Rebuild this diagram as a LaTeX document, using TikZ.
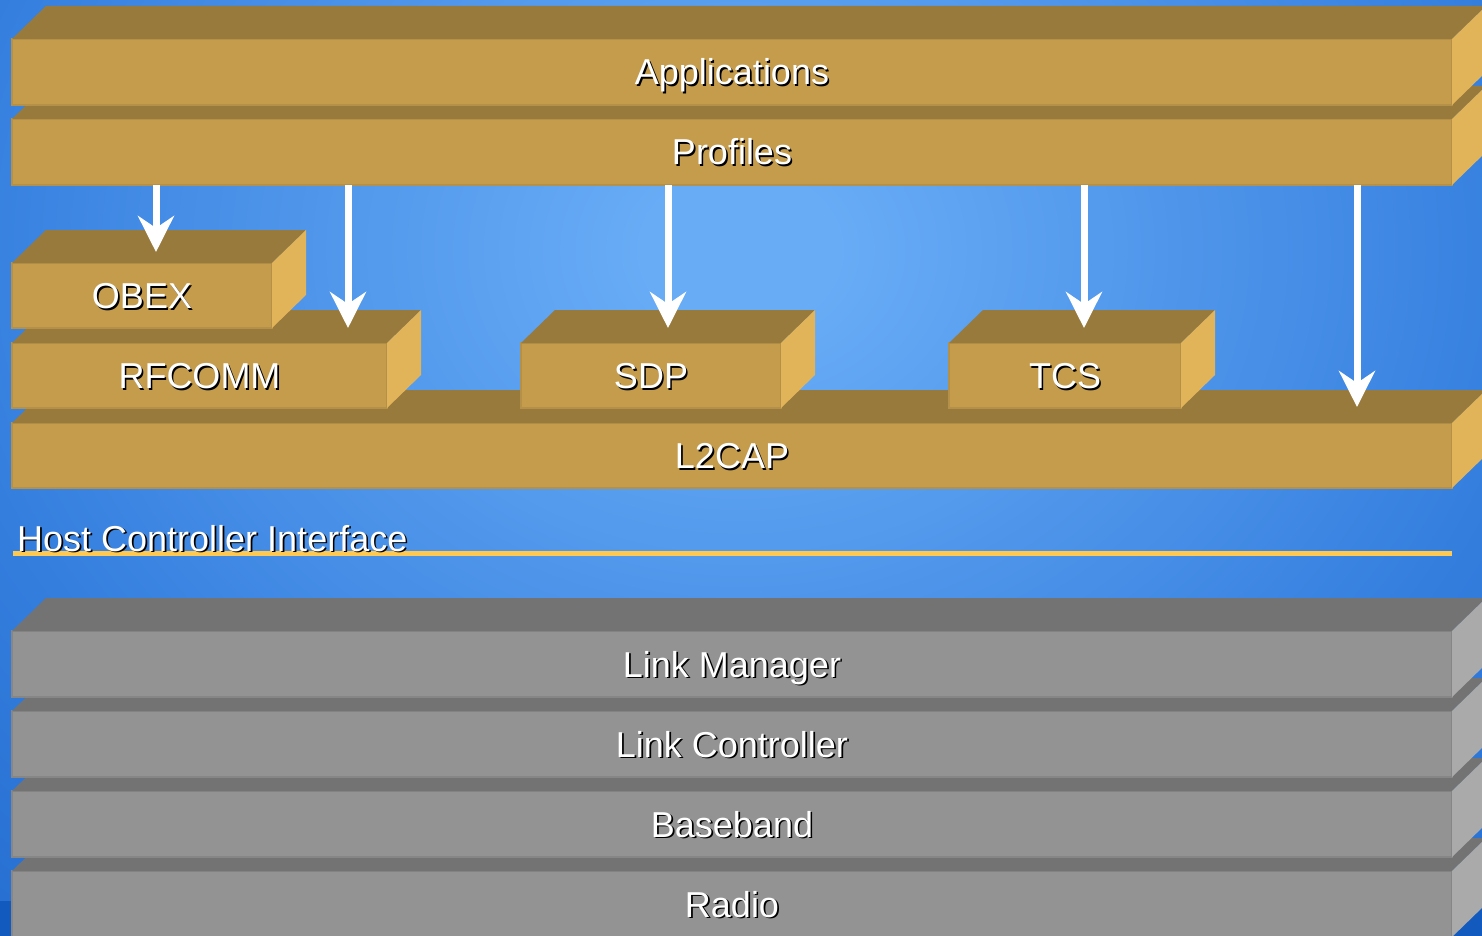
\documentclass[tikz,border=0pt]{standalone}
\usepackage{fontspec}
\setmainfont{Liberation Sans}
\usetikzlibrary{calc,arrows.meta}
\definecolor{bgin}{RGB}{104,172,246}
\definecolor{bgout}{RGB}{52,126,222}
\definecolor{bgdark}{RGB}{18,90,190}
\definecolor{goldtop}{RGB}{152,122,60}
\definecolor{goldfront}{RGB}{196,156,76}
\definecolor{goldside}{RGB}{226,180,90}
\definecolor{goldedge}{RGB}{180,144,72}
\definecolor{graytop}{RGB}{115,115,115}
\definecolor{grayfront}{RGB}{147,147,147}
\definecolor{grayside}{RGB}{170,170,170}
\definecolor{grayedge}{RGB}{134,134,134}
\definecolor{hciline}{RGB}{255,200,80}
\pgfdeclareradialshading{bgshade}{\pgfpoint{0bp}{0bp}}{color(0bp)=(bgin); color(3bp)=(bgin); color(25bp)=(bgout); color(50bp)=(bgdark)}
\newcommand\shtext[1]{\leavevmode\rlap{\kern1.6pt\raisebox{-1.6pt}{\color{black}#1}}{\color{white}#1}}
\newcommand\slab[7]{%
  \node[face, fill=#6front, draw=#6edge, anchor=north west,
        minimum width=#4pt-#2pt, minimum height=#5pt-#3pt] (#1) at (#2,#3) {\shtext{#7}};
  \fill[#6top] (#1.north west) -- ++(34,-33) -- ($(#1.north east)+(34,-33)$) -- (#1.north east) -- cycle;
  \fill[#6side] (#1.north east) -- ++(34,-33) -- ($(#1.south east)+(34,-33)$) -- (#1.south east) -- cycle;
}
\tikzset{
  face/.style={rectangle, inner sep=0pt, outer sep=0pt, line width=1.2pt,
    text height=26pt, text depth=0pt, font=\fontsize{36}{40}\selectfont},
  arr/.style={draw=white, line width=7pt, -{Stealth[length=36pt,width=36pt,inset=12pt]}},
  hci/.style={draw=hciline, line width=4.5pt},
}
\begin{document}
\begin{tikzpicture}[x=1pt,y=-1pt]
\useasboundingbox (0,0) rectangle (1482,936);
\begin{scope}
\clip (0,0) rectangle (1482,936);
\fill[bgdark] (0,0) rectangle (1482,936);
\shade[shading=bgshade] (-60,-400) rectangle (1540,900);
% gray stack (bottom first)
\slab{radio}{12}{871}{1452}{937}{gray}{Radio}
\slab{base}{12}{791}{1452}{857}{gray}{Baseband}
\slab{lc}{12}{711}{1452}{777}{gray}{Link Controller}
\slab{lm}{12}{631}{1452}{697}{gray}{Link Manager}
% gold stack
\slab{l2cap}{12}{423}{1452}{488}{gold}{L2CAP}
\slab{rfcomm}{12}{343}{387}{408}{gold}{RFCOMM}
\slab{sdp}{521}{343}{781}{408}{gold}{SDP}
\slab{tcs}{949}{343}{1181}{408}{gold}{TCS}
\slab{obex}{12}{263}{272}{328}{gold}{OBEX}
\slab{prof}{12}{119}{1452}{185}{gold}{Profiles}
\slab{app}{12}{39}{1452}{105}{gold}{Applications}
% HCI
\coordinate (hciL) at (13,553.5);
\coordinate (hciR) at (1452,553.5);
\draw[hci] (hciL) -- (hciR);
\node[anchor=base west, inner sep=0pt, font=\fontsize{36}{40}\selectfont] (hcit) at (17,551) {\shtext{Host Controller Interface}};
% arrows
\coordinate (t1) at (156,252);
\coordinate (t2) at (348,328);
\coordinate (t3) at (668,328);
\coordinate (t4) at (1084,328);
\coordinate (t5) at (1357,407);
\foreach \t in {t1,t2,t3,t4,t5}
  \draw[arr] (\t |- prof.south) -- (\t);
\end{scope}
\end{tikzpicture}
\end{document}
